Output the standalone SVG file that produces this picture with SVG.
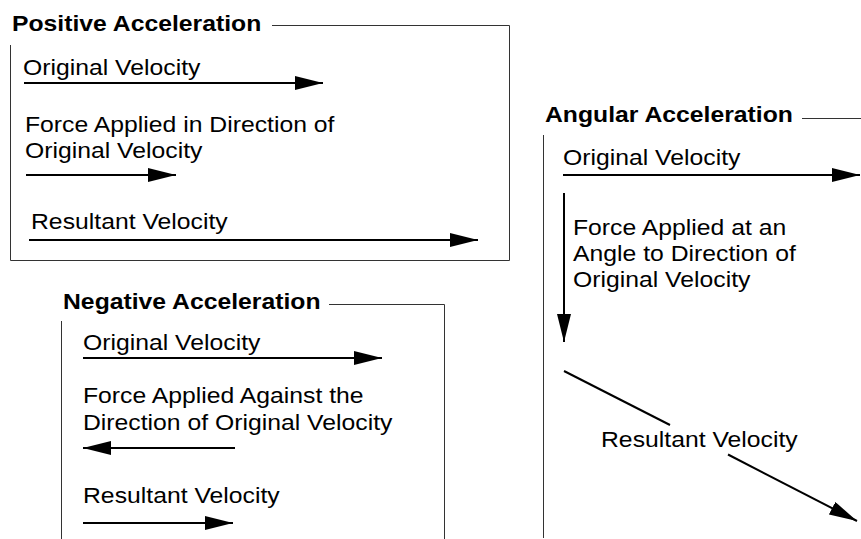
<svg xmlns="http://www.w3.org/2000/svg" width="861" height="539" viewBox="0 0 861 539">
<defs>
<style>
text{font-family:"Liberation Sans",Arial,Helvetica,sans-serif;font-size:22px;fill:#000}
.t{font-weight:bold}
.frame{fill:none;stroke:#333;stroke-width:1}
.arr{fill:none;stroke:#000;stroke-width:2;marker-end:url(#ah)}
.seg{fill:none;stroke:#000;stroke-width:2}
</style>
<marker id="ah" markerUnits="userSpaceOnUse" markerWidth="28" markerHeight="14" refX="28" refY="7" orient="auto" viewBox="0 0 28 14">
<path d="M0,0 L28,7 L0,14 Z" fill="#000"/>
</marker>
</defs>
<rect width="861" height="539" fill="#fff"/>

<g id="positive">
<path class="frame" d="M272,25.5 H509.5 V260.5 H10.5 V45"/>
<text class="t" transform="translate(12,31) scale(1.125,1)">Positive Acceleration</text>
<text transform="translate(23,75) scale(1.125,1)">Original Velocity</text>
<text transform="translate(25,132) scale(1.125,1)">Force Applied in Direction of</text>
<text transform="translate(25,158) scale(1.125,1)">Original Velocity</text>
<text transform="translate(31,229) scale(1.125,1)">Resultant Velocity</text>
</g>

<g id="negative">
<path class="frame" d="M329,304.5 H444.5 V539"/>
<path class="frame" d="M61.5,321 V539"/>
<text class="t" transform="translate(63,309) scale(1.125,1)">Negative Acceleration</text>
<text transform="translate(83,350) scale(1.125,1)">Original Velocity</text>
<text transform="translate(83,403) scale(1.125,1)">Force Applied Against the</text>
<text transform="translate(83,430) scale(1.125,1)">Direction of Original Velocity</text>
<text transform="translate(83,503) scale(1.125,1)">Resultant Velocity</text>
</g>

<g id="angular">
<path class="frame" d="M802,118.5 H861"/>
<path class="frame" d="M543.5,135 V538"/>
<text class="t" transform="translate(545,122) scale(1.125,1)">Angular Acceleration</text>
<text transform="translate(563,165) scale(1.125,1)">Original Velocity</text>
<text transform="translate(573,235) scale(1.125,1)">Force Applied at an</text>
<text transform="translate(573,261) scale(1.125,1)">Angle to Direction of</text>
<text transform="translate(573,287) scale(1.125,1)">Original Velocity</text>
<text transform="translate(601,447) scale(1.125,1)">Resultant Velocity</text>
</g>

<g id="connectors">
<line class="arr" x1="24" y1="83" x2="323" y2="83"/>
<line class="arr" x1="26" y1="175" x2="176" y2="175"/>
<line class="arr" x1="29" y1="240" x2="478" y2="240"/>
<line class="arr" x1="83" y1="358" x2="382" y2="358"/>
<line class="arr" x1="235" y1="448" x2="83" y2="448"/>
<line class="arr" x1="83" y1="523" x2="233" y2="523"/>
<line class="arr" x1="563" y1="175" x2="860" y2="175"/>
<line class="arr" x1="564" y1="193" x2="564" y2="342"/>
<line class="seg" x1="564" y1="371" x2="670" y2="425"/>
<line class="arr" x1="728" y1="454.5" x2="857" y2="521"/>
</g>
</svg>
